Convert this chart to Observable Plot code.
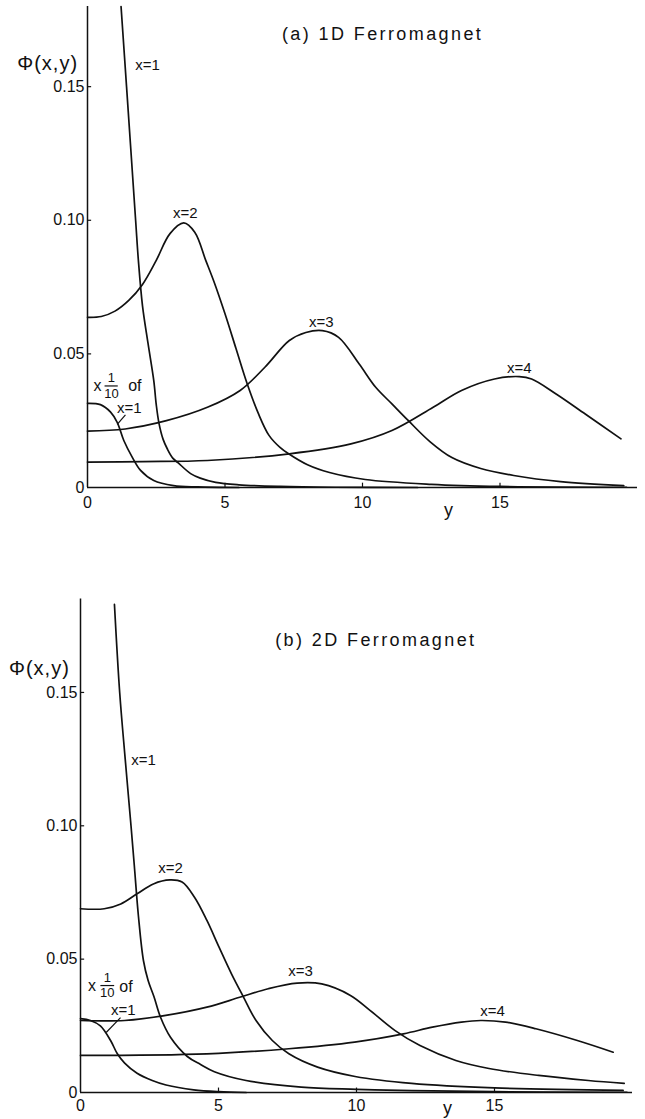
<!DOCTYPE html>
<html>
<head>
<meta charset="utf-8">
<script src="https://cdn.jsdelivr.net/npm/d3@7"></script>
<script src="https://cdn.jsdelivr.net/npm/@observablehq/plot@0.6"></script>
<style>
  html, body { margin: 0; padding: 0; background: #fff; }
  svg { display: block; }
</style>
</head>
<body>
<div id="chart"></div>
<script>
// ---------- tick labels ----------
const xTicks = [0, 5, 10, 15];
const yTicks = [0, 0.05, 0.10, 0.15];

// ---------- (a) 1D Ferromagnet ----------
const a1Y   = [1.22, 1.42, 1.75, 1.85, 2.0, 2.2, 2.41, 2.5, 2.6, 2.75, 2.9, 3.1, 3.3, 3.75, 4.1, 4.66, 5.5, 7, 9, 12];
const a1Phi = [0.180, 0.150, 0.100, 0.085, 0.068, 0.054, 0.040, 0.031, 0.024, 0.018, 0.0145, 0.011, 0.0092, 0.0052, 0.0035, 0.0019, 0.001, 0.0004, 0.0001, 0];

const a2Y   = [0, 0.5, 1.0, 1.5, 2.0, 2.5, 3.0, 3.5, 3.9, 4.3, 4.6, 5.0, 5.4, 5.8, 6.2, 6.6, 7.0, 7.3, 8.0, 8.8, 10.1, 12.5, 15, 19.6];
const a2Phi = [0.0637, 0.064, 0.066, 0.070, 0.076, 0.085, 0.095, 0.099, 0.0955, 0.085, 0.077, 0.065, 0.052, 0.039, 0.028, 0.0195, 0.015, 0.0127, 0.0085, 0.0056, 0.003, 0.0012, 0.0004, 0.0001];

const a3Y   = [0, 1.37, 2.87, 4.36, 5.55, 6.45, 7.34, 7.94, 8.54, 9.13, 9.88, 10.48, 11.07, 11.67, 12.45, 13.25, 14.3, 15.5, 17.2, 19.5];
const a3Phi = [0.0211, 0.0219, 0.025, 0.030, 0.0363, 0.045, 0.055, 0.058, 0.0587, 0.0562, 0.0462, 0.0375, 0.0313, 0.025, 0.0172, 0.0112, 0.0071, 0.0045, 0.0022, 0.0007];

const a4Y   = [0, 2.0, 4.36, 7.34, 9.58, 11.07, 12.57, 13.6, 14.8, 15.7, 16.15, 17.04, 18.1, 19.4];
const a4Phi = [0.0095, 0.0097, 0.0101, 0.0126, 0.0163, 0.0213, 0.030, 0.0363, 0.0406, 0.0415, 0.0406, 0.035, 0.0275, 0.0182];

const aTenthY   = [0, 0.47, 0.84, 1.08, 1.32, 1.63, 1.93, 2.41, 3.13, 4.0, 5.5];
const aTenthPhi = [0.0315, 0.031, 0.0282, 0.0244, 0.0176, 0.0113, 0.0064, 0.0026, 0.0007, 0.0002, 0];

// ---------- (b) 2D Ferromagnet ----------
const b1Y   = [1.23, 1.42, 1.62, 1.83, 1.95, 2.1, 2.28, 2.45, 2.66, 2.9, 3.26, 3.87, 4.35, 4.85, 6.0, 8.0, 10, 12, 15, 19.8];
const b1Phi = [0.183, 0.150, 0.125, 0.100, 0.085, 0.066, 0.0495, 0.042, 0.036, 0.0282, 0.0207, 0.0135, 0.0105, 0.0078, 0.0045, 0.002, 0.0012, 0.0007, 0.0003, 0.0001];

const b2Y   = [0, 0.86, 1.46, 2.05, 2.64, 3.24, 3.68, 4.13, 4.58, 5.02, 5.47, 5.91, 6.36, 6.95, 7.55, 8.59, 9.95, 12, 15, 19.66];
const b2Phi = [0.0689, 0.0689, 0.0707, 0.0745, 0.0782, 0.0797, 0.0789, 0.0732, 0.0645, 0.0545, 0.0445, 0.0357, 0.027, 0.0195, 0.0145, 0.0095, 0.006, 0.0034, 0.0017, 0.0008];

const b3Y   = [0, 1.6, 3.09, 4.58, 5.77, 6.8, 7.85, 8.74, 9.78, 10.5, 11.4, 12.3, 13.6, 14.8, 16.6, 18.4, 19.7];
const b3Phi = [0.027, 0.027, 0.0289, 0.032, 0.0357, 0.0389, 0.041, 0.0407, 0.0364, 0.0307, 0.0232, 0.0176, 0.012, 0.009, 0.0064, 0.0045, 0.0034];

const b4Y   = [0, 4.58, 7.55, 9.93, 11.7, 12.75, 13.8, 14.5, 15.4, 16.5, 18, 19.3];
const b4Phi = [0.0139, 0.0145, 0.0164, 0.0189, 0.022, 0.0245, 0.0264, 0.027, 0.0264, 0.0239, 0.0195, 0.0151];

const bTenthY   = [0, 0.36, 0.72, 1.09, 1.33, 1.6, 2.05, 2.6, 3.1, 4.1, 5, 6];
const bTenthPhi = [0.0277, 0.027, 0.025, 0.0195, 0.0146, 0.011, 0.0072, 0.0045, 0.0028, 0.001, 0.0003, 0];

// ---------- labels ----------
const aTitle = "(a) 1D Ferromagnet";
const bTitle = "(b) 2D Ferromagnet";
const yLabel = "Φ(x,y)";
const xLabel = "y";
const curveNames = ["x=1", "x=2", "x=3", "x=4"];

function rows(name, ys, ps) { return ys.map((y, i) => ({curve: name, y, phi: ps[i]})); }

const rowsA = [
  ...rows("x=1", a1Y, a1Phi), ...rows("x=2", a2Y, a2Phi), ...rows("x=3", a3Y, a3Phi),
  ...rows("x=4", a4Y, a4Phi), ...rows("tenth", aTenthY, aTenthPhi)
];
const rowsB = [
  ...rows("x=1", b1Y, b1Phi), ...rows("x=2", b2Y, b2Phi), ...rows("x=3", b3Y, b3Phi),
  ...rows("x=4", b4Y, b4Phi), ...rows("tenth", bTenthY, bTenthPhi)
];

// annotation placement (data coordinates)
const annA = {
  title: [10.73, 0.1698], ylab: [-1.45, 0.1586], xlab: [13.13, -0.0086],
  curves: [[2.18, 0.158], [3.56, 0.1028], [8.5, 0.0617], [15.7, 0.0445]],
  fx: [0.36, 0.0381], fnum: [0.87, 0.0410], fden: [0.87, 0.0350], fbar: [0.62, 1.10, 0.0380],
  fof: [1.72, 0.0381], fx1: [1.52, 0.0295], lead: [1.38, 0.0272, 1.08, 0.0236]
};
const annB = {
  title: [10.7, 0.1695], ylab: [-1.49, 0.159], xlab: [13.3, -0.0058],
  curves: [[2.28, 0.1245], [3.26, 0.084], [7.97, 0.0454], [14.93, 0.0305]],
  fx: [0.42, 0.0401], fnum: [0.97, 0.0430], fden: [0.97, 0.0372], fbar: [0.72, 1.22, 0.0401],
  fof: [1.65, 0.0397], fx1: [1.55, 0.0307], lead: [1.45, 0.0281, 0.93, 0.0225]
};

const fmt = d => d === 0 ? "0" : d.toFixed(2);
const ink = "#111";

function panel(rowsData, ann, title, opts) {
  const t = (arr, text, size, extra = {}) =>
    Plot.text([text], {x: () => arr[0], y: () => arr[1], text: d => d, fontSize: size, fill: ink, ...extra});
  return Plot.plot({
    width: 645,
    height: opts.height,
    marginTop: opts.marginTop,
    marginBottom: opts.marginBottom,
    marginLeft: opts.marginLeft,
    marginRight: opts.marginRight,
    x: {domain: [0, 20]},
    y: {domain: [0, opts.ymax]},
    style: {fontFamily: "'Liberation Sans', Arial, sans-serif", fontSize: "16px", color: ink, background: "#fff", overflow: "visible"},
    marks: [
      Plot.axisX(xTicks, {tickSize: 0, tickPadding: opts.xPad, label: null, fontSize: 16, fill: ink}),
      Plot.axisY(yTicks, {tickSize: 0, tickPadding: 3, tickFormat: fmt, label: null, fontSize: 16, fill: ink}),
      Plot.ruleX(xTicks.filter(d => d > 0), {x: d => d, y1: 0, y2: opts.ymax * 0.009, stroke: ink, strokeWidth: 1.2}),
      Plot.ruleY(yTicks.filter(d => d > 0), {y: d => d, x1: 0, x2: 0.15, stroke: ink, strokeWidth: 1.2}),
      Plot.ruleX([0], {stroke: ink, strokeWidth: 1.5}),
      Plot.ruleY([0], {stroke: ink, strokeWidth: 1.5}),
      Plot.line(rowsData, {x: "y", y: "phi", z: "curve", curve: "catmull-rom", stroke: ink, strokeWidth: 1.7}),
      t(ann.title, title, 18),
      t(ann.ylab, yLabel, 20),
      t(ann.xlab, xLabel, 18),
      ...curveNames.map((n, i) => t(ann.curves[i], n, 15)),
      t(ann.fx, "x", 16),
      t(ann.fnum, "1", 13),
      t(ann.fden, "10", 13),
      t(ann.fof, "of", 16),
      t(ann.fx1, "x=1", 15),
      Plot.link([0], {x1: () => ann.fbar[0], x2: () => ann.fbar[1], y1: () => ann.fbar[2], y2: () => ann.fbar[2], stroke: ink, strokeWidth: 1.2}),
      Plot.link([0], {x1: () => ann.lead[0], y1: () => ann.lead[1], x2: () => ann.lead[2], y2: () => ann.lead[3], stroke: ink, strokeWidth: 1.2})
    ]
  });
}

const svgA = panel(rowsA, annA, aTitle, {height: 530, marginTop: 6, marginBottom: 43, marginLeft: 87, marginRight: 8, ymax: 0.18, xPad: 9});
const svgB = panel(rowsB, annB, bTitle, {height: 589, marginTop: 68.6, marginBottom: 27, marginLeft: 80, marginRight: 13, ymax: 0.185, xPad: 7});

const root = document.getElementById("chart");
root.appendChild(svgA);
root.appendChild(svgB);

d3.selectAll("svg text").filter(function () { return this.textContent.includes("Ferromagnet"); })
  .style("letter-spacing", "2.4px");
d3.selectAll("svg text").filter(function () { return this.textContent === yLabel; })
  .style("letter-spacing", "1px");
</script>
</body>
</html>
